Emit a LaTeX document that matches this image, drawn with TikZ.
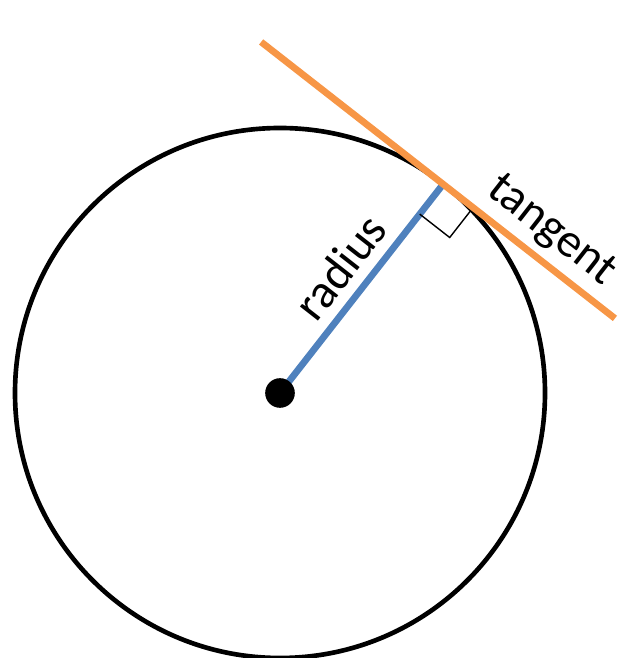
\documentclass[tikz,border=0pt]{standalone}
\usepackage{fontspec}
\setmainfont{Carlito}
\usepackage{xcolor}
\usetikzlibrary{calc}

\definecolor{radblue}{HTML}{4F81BD}
\definecolor{tangorange}{HTML}{F79646}

\begin{document}
\begin{tikzpicture}[
		x=0.025cm,
		y=0.025cm,
		circ/.style={
			draw=black,
			line width=3.3pt
		},
		radiusline/.style={
			draw=radblue,
			line width=4.8pt
		},
		tangline/.style={
			draw=tangorange,
			line width=4.8pt
		},
		rightmark/.style={
			draw=black,
			line width=1pt
		},
		dot/.style={
			circle,
			fill=black,
			inner sep=0pt,
			minimum size=0.74cm
		},
		lbl/.style={
			font=\fontsize{34}{40}\selectfont,
			inner sep=0pt
		}
		]
		
		% frame
		\useasboundingbox (0,0) rectangle (620,658);
		
		% key points
		\coordinate (O) at (280,265);
		\coordinate (T) at ($(O)+(52:265)$);
		
		% tangent ends
		\coordinate (ta) at ($(T)+(142:231)$);
		\coordinate (tb) at ($(T)+(-38:218)$);
		
		% circle
		\draw[circ] (O) circle (265);
		
		% radius
		\draw[radiusline] (O) -- (T);
		
		% right angle mark
		\draw[rightmark] ($(T)+(232:38)$) -- ($(T)+(232:38)+(-38:38)$) -- ($(T)+(-38:38)$);
		
		% tangent
		\draw[tangline] (ta) -- (tb);
		
		% centre
		\node[dot] (ctr) at (O) {};
		
		% labels
		\node[lbl, rotate=52]  (rlab) at (340,391) {radius};
		\node[lbl, rotate=-38] (tlab) at (551,427) {tangent};
\end{tikzpicture}
\end{document}
